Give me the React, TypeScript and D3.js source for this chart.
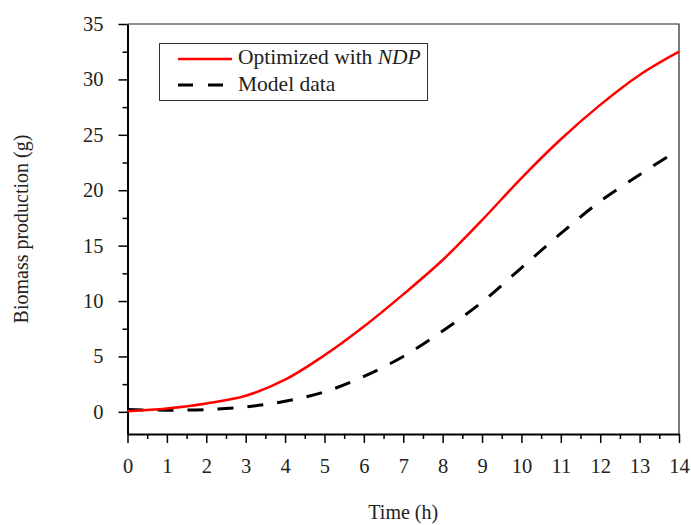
import React, { useRef, useEffect } from "react";
import * as d3 from "d3";

// Time (h) samples and biomass (g)
const optTime = [0, 1, 2, 3, 4, 5, 6, 7, 8, 9, 10, 11, 12, 13, 14];
const optBiomass = [0.05, 0.3, 0.75, 1.45, 2.9, 5.1, 7.7, 10.6, 13.7, 17.3, 21.1, 24.6, 27.7, 30.4, 32.5];

const modelTime = [0, 1, 2, 3, 4, 5, 6, 7, 8, 9, 10, 11, 12, 13, 13.7];
const modelBiomass = [0.2, 0.15, 0.2, 0.45, 0.95, 1.8, 3.2, 5.0, 7.3, 9.9, 13.0, 16.1, 19.0, 21.4, 23.0];

const xTicks = [0, 1, 2, 3, 4, 5, 6, 7, 8, 9, 10, 11, 12, 13, 14];
const yTicks = [0, 5, 10, 15, 20, 25, 30, 35];

const FONT = "'Liberation Serif', 'Times New Roman', serif";

const App = () => {
  const svgRef = useRef<SVGSVGElement>(null);

  useEffect(() => {
    document.body.style.margin = "0";
    const svg = d3.select(svgRef.current);
    const width = 691;
    const height = 525;
    const margin = { top: 24, right: 12, bottom: 91, left: 127.5 };

    svg.attr("width", width).attr("height", height);
    svg.selectAll("*").remove();

    const x = d3.scaleLinear().domain([0, 14]).range([margin.left, width - margin.right]);
    const y = d3.scaleLinear().domain([-2, 35]).range([height - margin.bottom, margin.top]);

    // frame (top and right)
    svg
      .append("path")
      .attr("d", `M${x(0)},${y(35)}H${x(14)}V${y(-2)}`)
      .attr("fill", "none")
      .attr("stroke", "#222")
      .attr("stroke-width", 1.2);

    // minor ticks
    const xMinor = d3.range(0.5, 14, 1);
    const yMinor = d3.range(2.5, 35, 5);

    const xAxisMinor = svg
      .append("g")
      .attr("transform", `translate(0,${y(-2)})`)
      .call(d3.axisBottom(x).tickValues(xMinor).tickSize(5).tickFormat(() => ""));
    const yAxisMinor = svg
      .append("g")
      .attr("transform", `translate(${x(0)},0)`)
      .call(d3.axisLeft(y).tickValues(yMinor).tickSize(5).tickFormat(() => ""));
    [xAxisMinor, yAxisMinor].forEach((g) => {
      g.select(".domain").remove();
      g.selectAll("line").attr("stroke", "#000").attr("stroke-width", 1.5);
    });

    // X Axis
    const xAxis = svg
      .append("g")
      .attr("transform", `translate(0,${y(-2)})`)
      .call(d3.axisBottom(x).tickValues(xTicks).tickSize(9).tickSizeOuter(0).tickPadding(15));

    // Y Axis
    const yAxis = svg
      .append("g")
      .attr("transform", `translate(${x(0)},0)`)
      .call(d3.axisLeft(y).tickValues(yTicks).tickSize(9).tickSizeOuter(0).tickPadding(15));

    [xAxis, yAxis].forEach((g) => {
      g.select(".domain").attr("stroke", "#000").attr("stroke-width", 2);
      g.selectAll("line").attr("stroke", "#000").attr("stroke-width", 1.5);
      g.selectAll("text")
        .attr("font-family", FONT)
        .attr("font-size", "20.5px")
        .attr("fill", "#222");
    });

    // Lines
    const line = d3
      .line<[number, number]>()
      .x((d) => x(d[0]))
      .y((d) => y(d[1]))
      .curve(d3.curveCatmullRom.alpha(0.5));

    const modelPts = modelTime.map((t, i) => [t, modelBiomass[i]] as [number, number]);
    const optPts = optTime.map((t, i) => [t, optBiomass[i]] as [number, number]);

    svg
      .append("path")
      .attr("d", line(modelPts))
      .attr("fill", "none")
      .attr("stroke", "#000")
      .attr("stroke-width", 3)
      .attr("stroke-dasharray", "16,14");

    svg
      .append("path")
      .attr("d", line(optPts))
      .attr("fill", "none")
      .attr("stroke", "#ff0000")
      .attr("stroke-width", 2.5);

    // Legend
    const lg = svg.append("g");
    lg.append("rect")
      .attr("x", 159.5)
      .attr("y", 43.5)
      .attr("width", 268)
      .attr("height", 57)
      .attr("fill", "#fff")
      .attr("stroke", "#333")
      .attr("stroke-width", 1);

    lg.append("line")
      .attr("x1", 178).attr("x2", 232)
      .attr("y1", 59).attr("y2", 59)
      .attr("stroke", "#ff0000")
      .attr("stroke-width", 2.5);
    lg.append("line")
      .attr("x1", 178).attr("x2", 232)
      .attr("y1", 85).attr("y2", 85)
      .attr("stroke", "#000")
      .attr("stroke-width", 3)
      .attr("stroke-dasharray", "15,15");

    const t1 = lg.append("text")
      .attr("x", 238).attr("y", 64)
      .attr("font-family", FONT).attr("font-size", "21.5px").attr("fill", "#222");
    t1.append("tspan").text("Optimized with ");
    t1.append("tspan").attr("font-style", "italic").text("NDP");

    lg.append("text")
      .attr("x", 238).attr("y", 91)
      .attr("font-family", FONT).attr("font-size", "21.5px").attr("fill", "#222")
      .text("Model data");

    // Axis titles
    svg.append("text")
      .attr("x", (x(0) + x(14)) / 2)
      .attr("y", 519)
      .attr("text-anchor", "middle")
      .attr("font-family", FONT).attr("font-size", "20px").attr("fill", "#222")
      .text("Time (h)");

    svg.append("text")
      .attr("transform", `translate(28,${(y(35) + y(-2)) / 2}) rotate(-90)`)
      .attr("text-anchor", "middle")
      .attr("font-family", FONT).attr("font-size", "20px").attr("fill", "#222")
      .text("Biomass production (g)");
  }, []);

  return (
    <div>
      <svg ref={svgRef} style={{ display: "block" }}></svg>
    </div>
  );
};

export default App;
